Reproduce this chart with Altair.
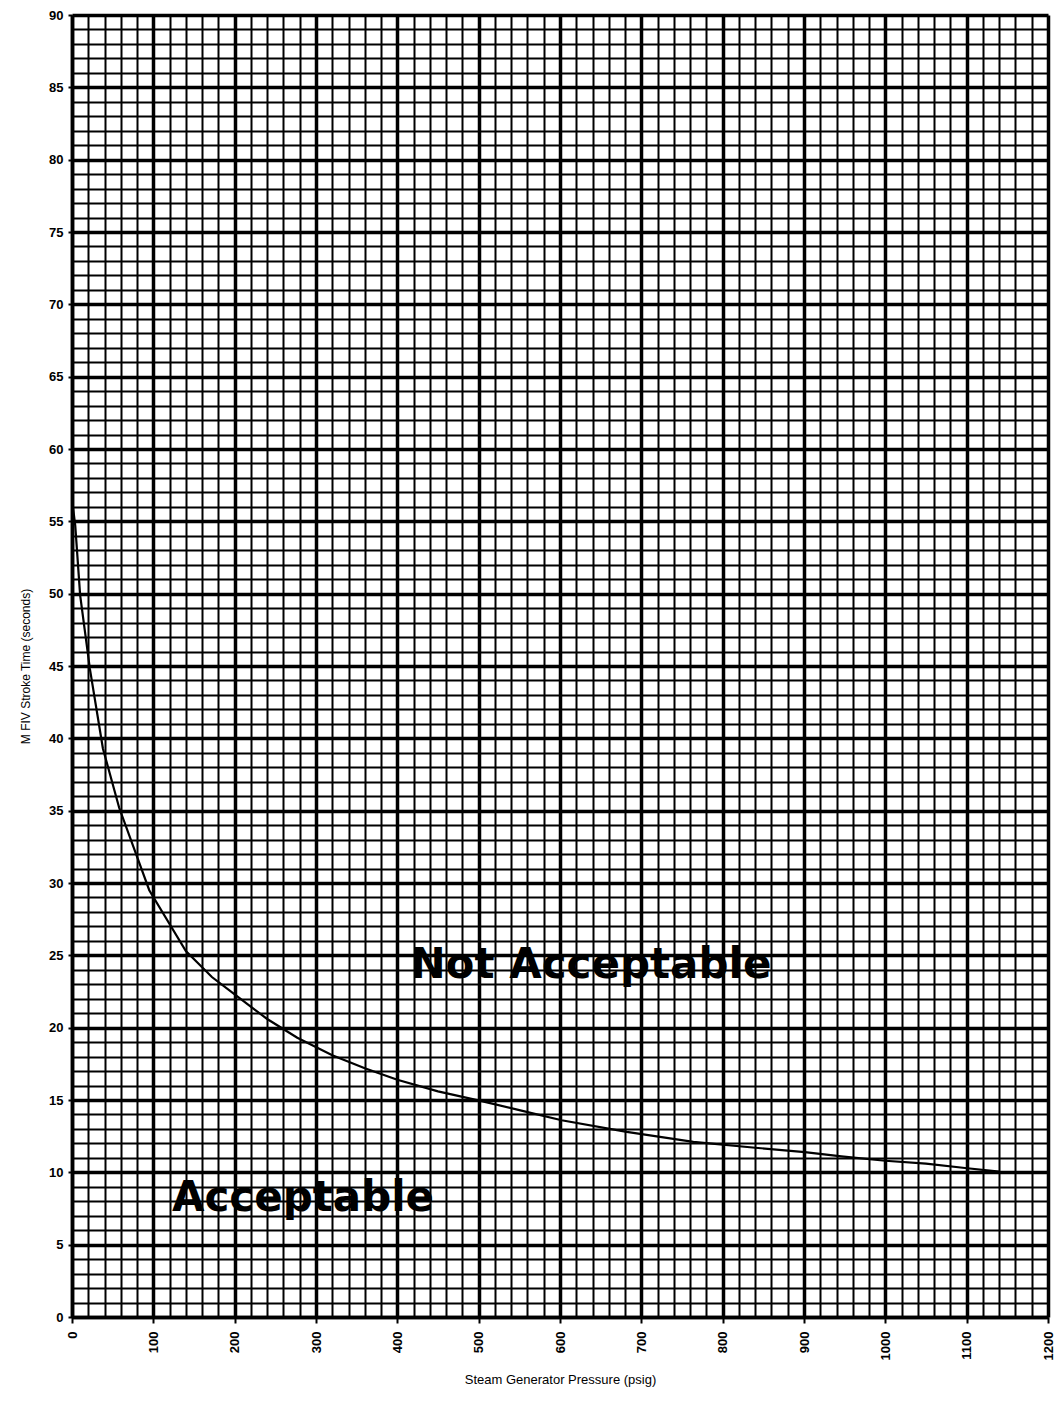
import altair as alt
import pandas as pd

# Curve
pressure = [0, 4, 10, 22, 38, 58, 95, 140, 172, 200, 240, 277, 320, 360, 400, 450, 505,
            550, 602, 682, 764, 840, 901, 946, 1000, 1050, 1098, 1140]
stroke_time = [56.5, 54.7, 49.9, 44.8, 39.3, 35.2, 29.5, 25.3, 23.5, 22.3, 20.6, 19.3, 18.1,
               17.2, 16.4, 15.6, 14.9, 14.3, 13.6, 12.8, 12.1, 11.7, 11.4, 11.1, 10.8, 10.6,
               10.3, 10.05]

# Region labels
label_text = ["Not Acceptable", "Acceptable"]
label_x = [638, 284]
label_y = [24.3, 8.2]

x_values = list(range(0, 1201, 20))
y_values = list(range(0, 91, 1))

curve = pd.DataFrame({"p": pressure, "t": stroke_time})
labels = pd.DataFrame({"text": label_text, "p": label_x, "t": label_y})

xscale = alt.Scale(domain=[0, 1200], nice=False, zero=False)
yscale = alt.Scale(domain=[0, 90], nice=False, zero=False)

x_axis = alt.Axis(
    values=x_values,
    title="Steam Generator Pressure (psig)",
    labelExpr="datum.value % 100 === 0 ? datum.label : ''",
    labelAngle=270,
    labelAlign="right",
    labelBaseline="middle",
    labelFont="Liberation Sans",
    labelFontSize=13,
    labelFontWeight="bold",
    labelColor="black",
    labelPadding=8,
    labelOverlap=False,
    labelBound=False,
    format="d",
    grid=True,
    gridColor="black",
    gridOpacity=1,
    gridWidth={"condition": {"test": "datum.value % 100 === 0", "value": 3.5}, "value": 2},
    tickColor="black",
    tickWidth=2,
    tickSize=6,
    tickOpacity={"condition": {"test": "datum.value % 100 === 0", "value": 1}, "value": 0},
    domain=True,
    domainColor="black",
    domainWidth=3.5,
    titleFont="Liberation Sans",
    titleFontSize=13,
    titleFontWeight="normal",
    titleColor="black",
    titlePadding=14,
)

y_axis = alt.Axis(
    values=y_values,
    title="M FIV Stroke Time (seconds)",
    labelExpr="datum.value % 5 === 0 ? datum.label : ''",
    labelFont="Liberation Sans",
    labelFontSize=13,
    labelFontWeight="bold",
    labelColor="black",
    labelPadding=5,
    labelOverlap=False,
    labelBound=False,
    grid=True,
    gridColor="black",
    gridOpacity=1,
    gridWidth={"condition": {"test": "datum.value % 5 === 0", "value": 3.5}, "value": 2},
    tickColor="black",
    tickWidth=2,
    tickSize=4,
    tickOpacity={"condition": {"test": "datum.value % 5 === 0", "value": 1}, "value": 0},
    domain=True,
    domainColor="black",
    domainWidth=3.5,
    titleFont="Liberation Sans",
    titleFontSize=12,
    titleFontWeight="normal",
    titleColor="black",
    titlePadding=16,
)

line = alt.Chart(curve).mark_line(color="black", strokeWidth=2.2).encode(
    x=alt.X("p:Q", scale=xscale, axis=x_axis),
    y=alt.Y("t:Q", scale=yscale, axis=y_axis),
)

text = alt.Chart(labels).mark_text(
    font="DejaVu Sans", fontWeight="bold", fontSize=42, color="black",
    align="center", baseline="middle",
).encode(
    x=alt.X("p:Q", scale=xscale, axis=x_axis),
    y=alt.Y("t:Q", scale=yscale, axis=y_axis),
    text="text:N",
)

chart = alt.layer(line, text).properties(
    width=976,
    height=1302,
    autosize=alt.AutoSizeParams(type="none"),
    padding={"left": 64, "top": 7, "right": 6, "bottom": 76},
).configure_view(stroke=None).configure(background="white")

chart.save("out.html", embed_options={"renderer": "svg", "actions": False})
